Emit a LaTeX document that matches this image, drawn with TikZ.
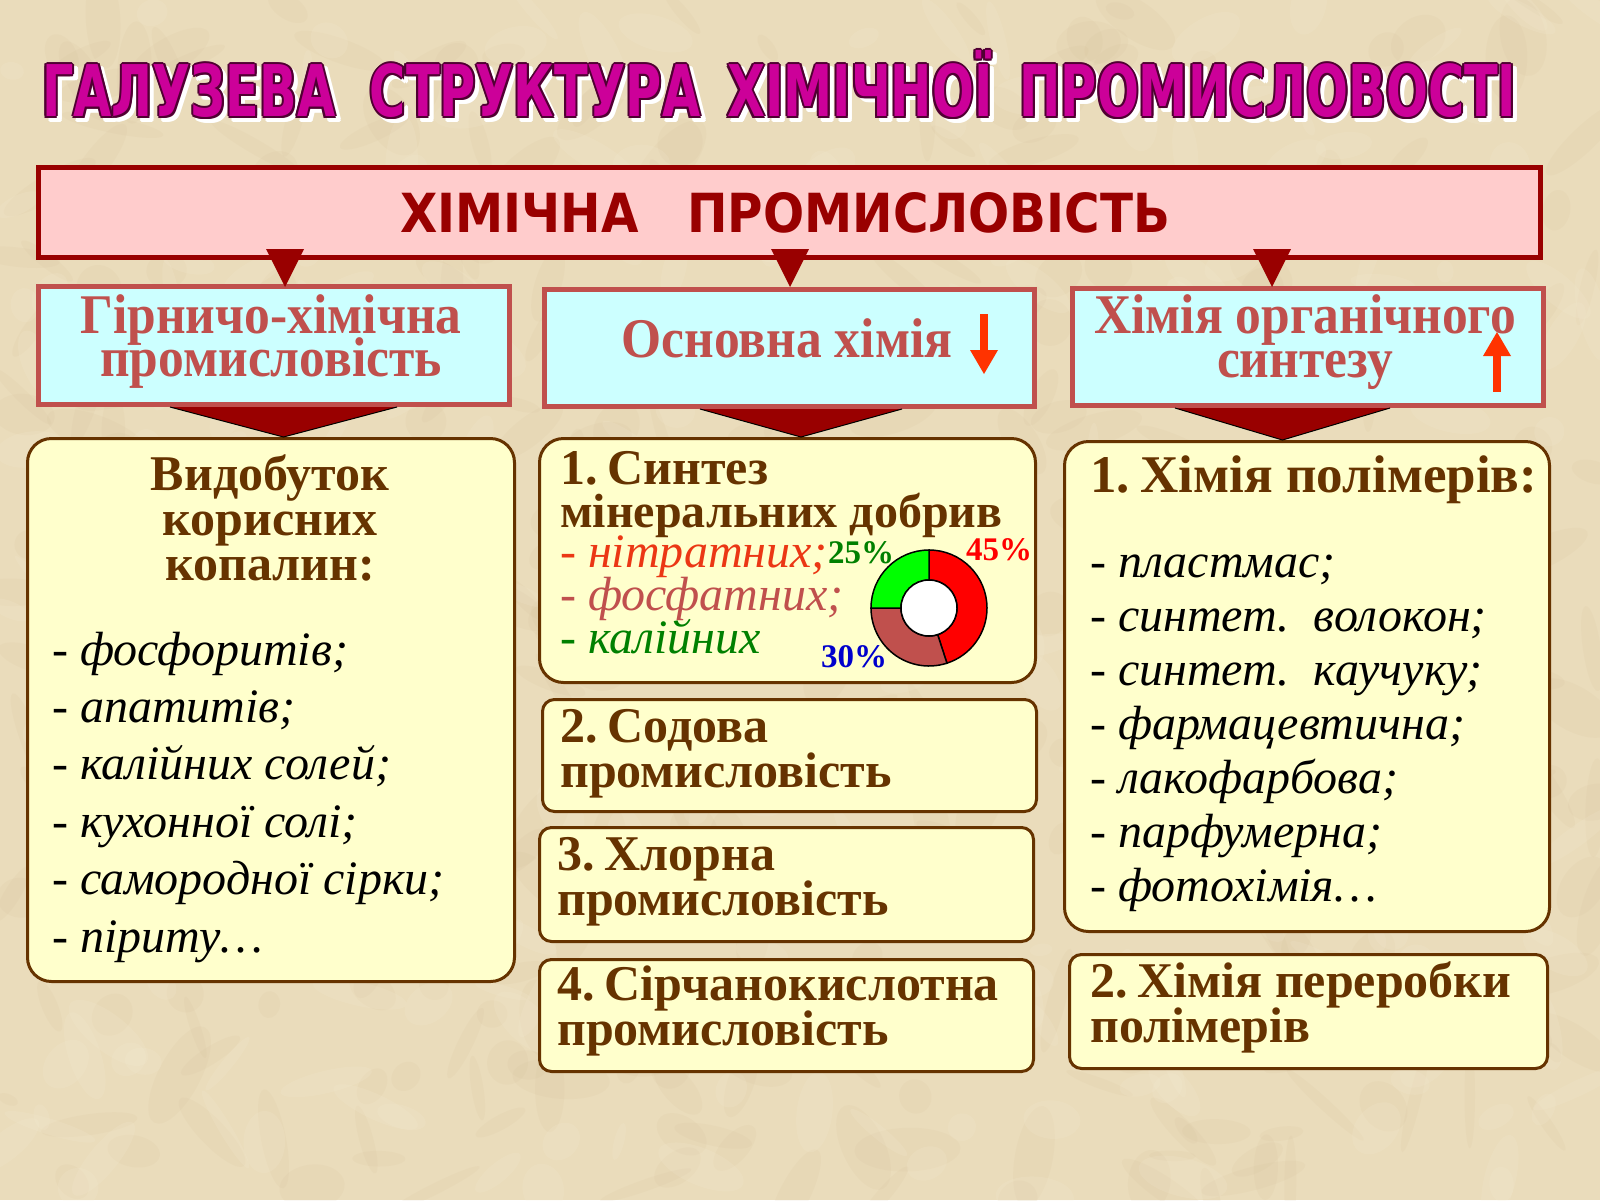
\documentclass[tikz,border=0pt]{standalone}
\usepackage{fontspec}
\usetikzlibrary{calc}
\setmainfont{Liberation Serif}
\newfontfamily\condb{Liberation Serif}[FakeStretch=0.92]
\newfontfamily\dejab{DejaVu Sans}
\definecolor{bg}{RGB}{234,220,187}
\definecolor{bgdark}{RGB}{205,180,140}
\definecolor{bglight}{RGB}{248,240,218}
\definecolor{dred}{RGB}{153,0,0}
\definecolor{pinkf}{RGB}{255,204,204}
\definecolor{cyanf}{RGB}{204,255,255}
\definecolor{cyand}{RGB}{192,80,77}
\definecolor{yelf}{RGB}{255,255,204}
\definecolor{bdr}{RGB}{102,51,0}
\definecolor{mag}{RGB}{204,0,153}
\definecolor{magd}{RGB}{80,0,50}
\definecolor{arrc}{RGB}{255,51,0}
\definecolor{nitr}{RGB}{235,55,20}
\definecolor{grn}{RGB}{0,128,0}
\definecolor{pgrn}{RGB}{0,255,0}
\definecolor{pred}{RGB}{255,0,0}
\definecolor{pblue}{RGB}{0,0,204}
\newcommand{\titletxt}{\resizebox{1474pt}{66pt}{\dejab\bfseries ГАЛУЗЕВА\hspace{0.35em} СТРУКТУРА\hspace{0.2em} ХІМІЧНОЇ\hspace{0.2em} ПРОМИСЛОВОСТІ}}
\begin{document}
\begin{tikzpicture}[x=1pt,y=-1pt,
  cyanbox/.style={draw=cyand, line width=5pt, fill=cyanf, inner sep=0, anchor=north west},
  yelbox/.style={draw=bdr, line width=3pt, fill=yelf, rounded corners=24pt, inner sep=0, anchor=north west},
  yelsmall/.style={yelbox, rounded corners=12pt},
  hd/.style={font=\condb\bfseries\fontsize{56}{56}\selectfont, text=cyand, inner sep=0, anchor=base},
  bh/.style={font=\bfseries\fontsize{50}{50}\selectfont, text=bdr, inner sep=0, anchor=base west},
  bhc/.style={bh, anchor=base},
  li/.style={font=\itshape\fontsize{48}{48}\selectfont, inner sep=0, anchor=base west},
  pct/.style={font=\bfseries\fontsize{33}{33}\selectfont, inner sep=0, anchor=base west},
  ttl/.style={inner sep=0, anchor=south west}
]
\useasboundingbox (0,0) rectangle (1600,1200);
% background
\fill[bg] (0,0) rectangle (1600,1200);
\begin{scope}
\clip (0,0) rectangle (1600,1200);
\pgfmathsetseed{12}
\foreach \i in {1,...,420}{
  \pgfmathsetmacro{\px}{rnd*1600}
  \pgfmathsetmacro{\py}{rnd*1200}
  \pgfmathsetmacro{\rx}{10+rnd*45}
  \pgfmathsetmacro{\ry}{5+rnd*18}
  \pgfmathsetmacro{\rot}{rnd*180}
  \fill[bgdark, opacity=0.09, rotate around={\rot:(\px,\py)}] (\px,\py) ellipse ({\rx} and {\ry});
}
\foreach \i in {1,...,300}{
  \pgfmathsetmacro{\px}{rnd*1600}
  \pgfmathsetmacro{\py}{rnd*1200}
  \pgfmathsetmacro{\rx}{10+rnd*40}
  \pgfmathsetmacro{\ry}{5+rnd*16}
  \pgfmathsetmacro{\rot}{rnd*180}
  \fill[bglight, opacity=0.14, rotate around={\rot:(\px,\py)}] (\px,\py) ellipse ({\rx} and {\ry});
}
\end{scope}

% title
\foreach \dx/\dy [count=\i] in {2/5,4/5,5/4,5/2,3/6,6/3,5/6,6/5}
  \node[ttl, text=white] (tws\i) at (42+\dx,118+\dy) {\titletxt};
\foreach \dx/\dy [count=\i] in {-2/0,2/0,0/-2,0/2,-1.5/-1.5,1.5/1.5,-1.5/1.5,1.5/-1.5}
  \node[ttl, text=magd] (two\i) at (42+\dx,118+\dy) {\titletxt};
\node[ttl, text=mag] (title) at (42,118) {\titletxt};

% top box
\node[draw=dred, line width=5pt, fill=pinkf, inner sep=0, anchor=north west,
      minimum width=1502pt, minimum height=90pt] (top) at (36,165) {};
\node[inner sep=0, anchor=south west, text=dred] (toptxt) at (400,233)
  {\resizebox{770pt}{40pt}{\dejab\bfseries ХІМІЧНА\hspace{1.0em}ПРОМИСЛОВІСТЬ}};

% cyan boxes
\node[cyanbox, minimum width=471pt, minimum height=118pt] (g1) at (36,284) {};
\node[cyanbox, minimum width=490pt, minimum height=117pt] (g2) at (542,287) {};
\node[cyanbox, minimum width=471pt, minimum height=117pt] (g3) at (1070,286) {};

% small triangles from top box
\coordinate (t1) at (285,287);
\coordinate (t2) at (790,287);
\coordinate (t3) at (1272,287);
\foreach \t in {t1,t2,t3}
  \fill[dred] ($(\t)+(-19,-38)$) -- ($(\t)+(19,-38)$) -- (\t) -- cycle;

% yellow boxes
\node[yelbox, minimum width=487pt, minimum height=543pt] (y1) at (26,437) {};
\node[yelbox, minimum width=496pt, minimum height=244pt] (y2) at (538,437) {};
\node[yelsmall, minimum width=494pt, minimum height=112pt] (y3) at (541,698) {};
\node[yelsmall, minimum width=494pt, minimum height=114pt] (y4) at (538,826) {};
\node[yelsmall, minimum width=494pt, minimum height=112pt] (y5) at (538,958) {};
\node[yelbox, minimum width=485pt, minimum height=490pt] (y6) at (1063,440) {};
\node[yelsmall, minimum width=478pt, minimum height=114pt] (y7) at (1068,953) {};

% big dark red connectors
\foreach \a/\b/\l/\r in {g1/y1/170/397, g2/y2/700/902, g3/y6/1175/1390}{
  \pgfmathsetmacro{\mx}{(\l+\r)/2}
  \coordinate (tip\a) at (\b.north -| \mx,0);
  \fill[dred] (\a.south -| \l,0) -- (\a.south -| \r,0) -- (tip\a) -- cycle;
  \draw[black, line width=1pt] (\a.south -| \l,0) -- (tip\a) -- (\a.south -| \r,0);
}

% arrows in cyan boxes
\fill[arrc] (980,314) rectangle (988,352);
\fill[arrc] (970,350) -- (998,350) -- (984,374) -- cycle;
\fill[arrc] (1483,356) -- (1511,356) -- (1497,332) -- cycle;
\fill[arrc] (1493,354) rectangle (1501,392);

% cyan texts
\node[hd] (h1a) at (271,333) {Гірничо-хімічна};
\node[hd] (h1b) at (271,376) {промисловість};
\node[hd] (h2) at (787,357) {Основна хімія};
\node[hd] (h3a) at (1305,333) {Хімія органічного};
\node[hd] (h3b) at (1305,377) {синтезу};

% left yellow
\node[bhc] (l1) at (270,490) {Видобуток};
\node[bhc] (l2) at (270,535) {корисних};
\node[bhc] (l3) at (270,580) {копалин:};
\foreach \t [count=\i] in {фосфоритів;, апатитів;, калійних солей;, кухонної солі;, самородної сірки;, піриту…}
  \node[li] (ll\i) at (52,{665+57.4*(\i-1)}) {- \t};

% middle 1
\node[bh] (m1a) at (560,484) {1.\hspace{0.2em}Синтез};
\node[bh, font=\bfseries\fontsize{48}{48}\selectfont] (m1b) at (560,527) {мінеральних добрив};
\node[li, text=nitr] (m1c) at (560,567) {- нітратних;};
\node[li, text=cyand] (m1d) at (560,610) {- фосфатних;};
\node[li, text=grn] (m1e) at (560,653) {- калійних};

% donut
\begin{scope}[shift={(929,608)}, yscale=-1]
  \coordinate (dc) at (0,0);
  \filldraw[fill=pred, draw=black, line width=1.5pt] (90:58) arc (90:-72:58) -- (-72:28) arc (-72:90:28) -- cycle;
  \filldraw[fill=cyand, draw=black, line width=1.5pt] (-72:58) arc (-72:-180:58) -- (180:28) arc (180:288:28) -- cycle;
  \filldraw[fill=pgrn, draw=black, line width=1.5pt] (180:58) arc (180:90:58) -- (90:28) arc (90:180:28) -- cycle;
  \filldraw[fill=white, draw=black, line width=1.5pt] (0,0) circle (28);
\end{scope}
\node[pct, text=grn] (p25) at (828,563) {25\%};
\node[pct, text=pred] (p45) at (966,560) {45\%};
\node[pct, text=pblue] (p30) at (821,667) {30\%};

% middle 2-4
\node[bh] (m2a) at (560,742) {2.\hspace{0.2em}Содова};
\node[bh] (m2b) at (560,787) {промисловість};
\node[bh] (m3a) at (557,870) {3.\hspace{0.2em}Хлорна};
\node[bh] (m3b) at (557,915) {промисловість};
\node[bh] (m4a) at (557,1000) {4.\hspace{0.2em}Сірчанокислотна};
\node[bh] (m4b) at (557,1045) {промисловість};

% right
\node[bh, font=\bfseries\fontsize{53}{53}\selectfont] (r1) at (1090,492) {1.\hspace{0.2em}Хімія полімерів:};
\foreach \t [count=\i] in {пластмас;, синтет.\ \ волокон;, синтет.\ \ каучуку;, фармацевтична;, лакофарбова;, парфумерна;, фотохімія…}
  \node[li] (rl\i) at (1090,{577+54*(\i-1)}) {- \t};
\node[bh] (r2a) at (1090,997) {2.\hspace{0.2em}Хімія переробки};
\node[bh] (r2b) at (1090,1042) {полімерів};
\end{tikzpicture}
\end{document}
